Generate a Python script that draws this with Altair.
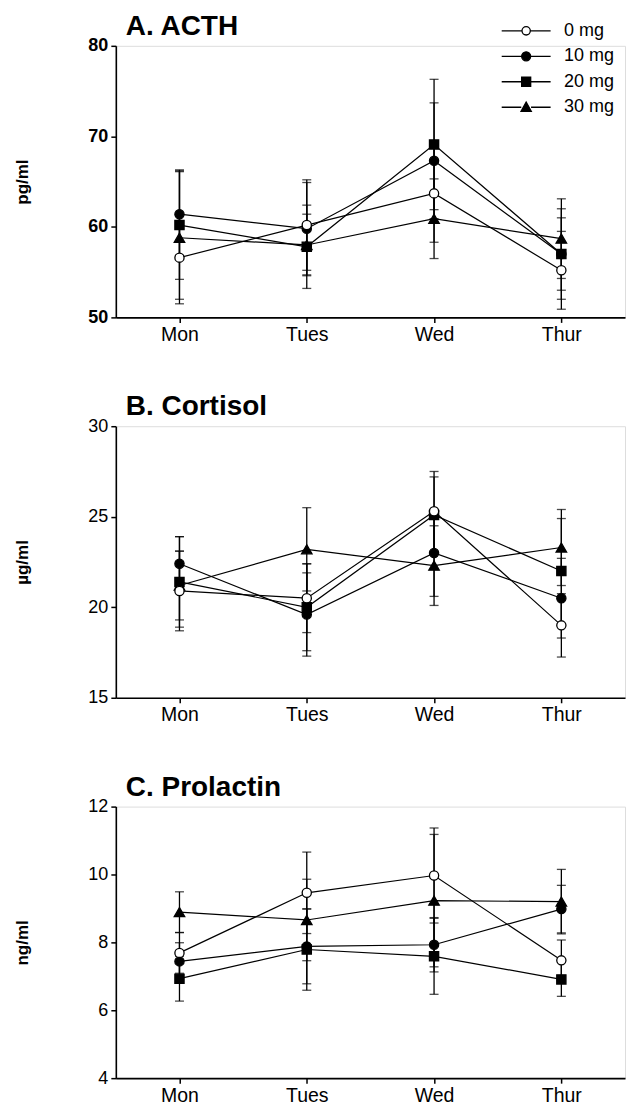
import altair as alt
import pandas as pd

days = ["Mon", "Tues", "Wed", "Thur"]
doses = ["0 mg", "10 mg", "20 mg", "30 mg"]

# A. ACTH (pg/ml): means and SE
acth = {
    "0 mg": [56.6, 60.2, 63.7, 55.2],
    "10 mg": [61.4, 59.8, 67.3, 57.0],
    "20 mg": [60.2, 57.8, 69.1, 57.0],
    "30 mg": [58.8, 58.0, 60.9, 58.7],
}
acth_err = {
    "0 mg": [4.6, 5.0, 5.4, 4.3],
    "10 mg": [4.9, 5.1, 6.4, 4.0],
    "20 mg": [6.0, 4.6, 7.2, 5.0],
    "30 mg": [7.3, 3.4, 4.4, 4.4],
}

# B. Cortisol (ug/ml)
cort = {
    "0 mg": [20.9, 20.5, 25.3, 19.0],
    "10 mg": [22.4, 19.6, 23.0, 20.5],
    "20 mg": [21.4, 20.0, 25.1, 22.0],
    "30 mg": [21.2, 23.2, 22.3, 23.3],
}
cort_err = {
    "0 mg": [2.2, 1.9, 2.2, 1.75],
    "10 mg": [1.5, 2.3, 2.4, 2.2],
    "20 mg": [2.5, 2.4, 2.1, 2.9],
    "30 mg": [1.9, 2.3, 2.2, 2.1],
}

# C. Prolactin (ng/ml)
prl = {
    "0 mg": [7.69, 9.46, 9.97, 7.47],
    "10 mg": [7.44, 7.88, 7.93, 8.98],
    "20 mg": [6.93, 7.79, 7.59, 6.91],
    "30 mg": [8.89, 8.66, 9.23, 9.20],
}
prl_err = {
    "0 mg": [0.6, 1.2, 1.4, 0.6],
    "10 mg": [0.55, 1.1, 0.8, 0.7],
    "20 mg": [0.66, 1.2, 1.12, 0.5],
    "30 mg": [0.6, 1.2, 1.95, 0.95],
}

FONT = "Liberation Sans"

point_shapes = {"0 mg": "circle", "10 mg": "circle", "20 mg": "square", "30 mg": "triangle-up"}
point_fills = {"0 mg": "white", "10 mg": "black", "20 mg": "black", "30 mg": "black"}
point_sizes = {"0 mg": 85, "10 mg": 85, "20 mg": 85, "30 mg": 110}

legend_paths = [
    "M-2,0H-0.34M0.34,0H2M0.34,0A0.34,0.34,0,1,1,-0.34,0A0.34,0.34,0,1,1,0.34,0Z",
    "M-2,0H-0.37M0.37,0H2M0.37,0A0.37,0.37,0,1,1,-0.37,0A0.37,0.37,0,1,1,0.37,0Z",
    "M-2,0H-0.37M0.37,0H2M-0.37,-0.37H0.37V0.37H-0.37Z",
    "M-2,0H-0.4M0.4,0H2M0,-0.42L0.42,0.34L-0.42,0.34Z",
]
legend_fills = ["white", "black", "black", "black"]
legend_strokes = ["black", "black", "black", "black"]


def make_df(vals, errs):
    rows = []
    for d in reversed(doses):
        for i, day in enumerate(days):
            v = vals[d][i]
            e = errs[d][i]
            rows.append({"Day": day, "Dose": d, "day_idx": i, "value": v,
                         "lo": v - e, "hi": v + e})
    return pd.DataFrame(rows)


def panel(vals, errs, domain, ticks, title, ytitle, bold_labels, legend=False):
    df = make_df(vals, errs)
    base = alt.Chart(df)
    x = alt.X("Day:N", sort=days, scale=alt.Scale(type="point", padding=0.5),
              axis=alt.Axis(title=None, labelAngle=0, labelFontSize=19.5, labelFont=FONT,
                            labelColor="black", tickSize=5, tickWidth=1.5, tickColor="black",
                            domainColor="black", domainWidth=1.6, labelPadding=3, grid=False))
    yscale = alt.Scale(domain=domain, nice=False, zero=False)
    yaxis = alt.Axis(values=ticks, title=ytitle, titleFontSize=17, titleFontWeight="bold",
                     titleFont=FONT, titleColor="black", titlePadding=56,
                     labelFontSize=18, labelFont=FONT,
                     labelFontWeight="bold" if bold_labels else "normal",
                     labelColor="black", tickSize=5, tickWidth=1.5, tickColor="black",
                     domainColor="black", domainWidth=1.6, labelPadding=3, grid=False)
    y = alt.Y("value:Q", scale=yscale, axis=yaxis)

    rules = base.mark_rule(color="black", strokeWidth=1.3).encode(
        x=x, y=alt.Y("lo:Q", scale=yscale, axis=yaxis), y2="hi:Q")
    cap_lo = base.mark_tick(color="black", size=9, thickness=1.3).encode(
        x=x, y=alt.Y("lo:Q", scale=yscale, axis=yaxis))
    cap_hi = base.mark_tick(color="black", size=9, thickness=1.3).encode(
        x=x, y=alt.Y("hi:Q", scale=yscale, axis=yaxis))
    lines = base.mark_line(color="black", strokeWidth=1.2).encode(
        x=x, y=y, detail="Dose:N", order=alt.Order("day_idx:Q"))

    layers = [rules, cap_lo, cap_hi, lines]
    for d in reversed(doses):
        layers.append(
            base.transform_filter(alt.datum.Dose == d).mark_point(
                shape=point_shapes[d], filled=True, fill=point_fills[d], stroke="black",
                strokeWidth=1.3, size=point_sizes[d], opacity=1).encode(x=x, y=y))

    if legend:
        leg = alt.Legend(title=None, orient="none", legendX=398, legendY=-28,
                         symbolSize=600, symbolStrokeWidth=1.3,
                         symbolOpacity=1, labelFontSize=18, labelFont=FONT,
                         labelColor="black", labelOffset=25, rowPadding=3.5, padding=0)
        layers.append(
            base.mark_point(filled=True, opacity=0, size=600, strokeWidth=1.3).encode(
                x=x, y=y,
                shape=alt.Shape("Dose:N", sort=doses,
                                scale=alt.Scale(domain=doses, range=legend_paths), legend=leg),
                fill=alt.Fill("Dose:N", sort=doses,
                              scale=alt.Scale(domain=doses, range=legend_fills), legend=leg),
                stroke=alt.Stroke("Dose:N", sort=doses,
                                  scale=alt.Scale(domain=doses, range=legend_strokes), legend=leg),
            ))

    return alt.layer(*layers).properties(
        width=510, height=272,
        title=alt.TitleParams(title, anchor="start", frame="group", fontSize=28,
                              fontWeight="bold", font=FONT, color="black", dx=10,
                              offset=-26, baseline="alphabetic"))


pa = panel(acth, acth_err, [50, 80], [50, 60, 70, 80], "A. ACTH", "pg/ml", True, legend=True)
pb = panel(cort, cort_err, [15, 30], [15, 20, 25, 30], "B. Cortisol", "µg/ml", False)
pc = panel(prl, prl_err, [4, 12], [4, 6, 8, 10, 12], "C. Prolactin", "ng/ml", False)

chart = alt.vconcat(pa, pb, pc, spacing=48).properties(
    padding={"left": 5, "top": 3, "right": 0, "bottom": 0}
).configure_view(stroke=None).configure(background="white")

chart.save("out.html", embed_options={"renderer": "svg", "actions": False})
